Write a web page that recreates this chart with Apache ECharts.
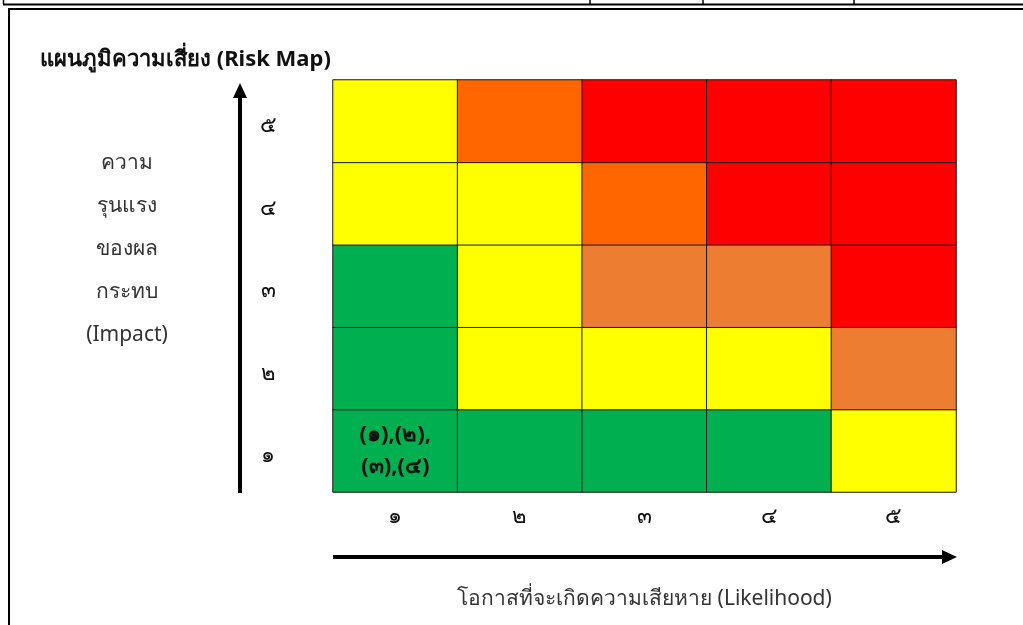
<!DOCTYPE html>
<html>
<head>
<meta charset="utf-8">
<script src="https://cdn.jsdelivr.net/npm/echarts@6/dist/echarts.min.js"></script>
<style>
html,body{margin:0;padding:0;background:#fff;}
#chart{width:1023px;height:625px;}
</style>
</head>
<body>
<div id="chart"></div>
<script>
const likelihoodLabels = ['๑','๒','๓','๔','๕'];
const impactLabels = ['๑','๒','๓','๔','๕'];
// rows: impact 1..5 (bottom to top), columns: likelihood 1..5
const riskLevel = [
  [1,1,1,1,2],
  [1,2,2,2,3],
  [1,2,3,3,5],
  [2,2,4,5,5],
  [2,4,5,5,5]
];
const levelColors = ['#00B050','#FFFF00','#ED7D31','#FF6600','#FF0000'];
const cellNotes = { '0,0': '(๑),(๒),\n(๓),(๔)' };
const titleText = 'แผนภูมิความเสี่ยง (Risk Map)';
const impactTitle = 'ความ\nรุนแรง\nของผล\nกระทบ\n(Impact)';
const likelihoodTitle = 'โอกาสที่จะเกิดความเสียหาย (Likelihood)';

const FONT = '"Noto Sans", "DejaVu Sans", sans-serif';
const data = [];
riskLevel.forEach((row, yi) => row.forEach((v, xi) => data.push([xi, yi, v])));

const chart = echarts.init(document.getElementById('chart'));
chart.setOption({
  backgroundColor: '#fff',
  animation: false,
  textStyle: { fontFamily: FONT },
  title: {
    text: titleText, left: 35, top: 44,
    textStyle: { fontFamily: FONT, fontSize: 22, fontWeight: 'bold', color: '#111' }
  },
  grid: { left: 333, top: 80, width: 623, height: 412 },
  xAxis: {
    type: 'category', data: likelihoodLabels,
    axisLine: { show: false }, axisTick: { show: false }, splitLine: { show: false },
    axisLabel: { margin: 14, fontSize: 22, color: '#111', fontFamily: FONT },
    name: likelihoodTitle, nameLocation: 'middle', nameGap: 97,
    nameTextStyle: { fontSize: 21, color: '#333', fontFamily: FONT }
  },
  yAxis: {
    type: 'category', data: impactLabels,
    axisLine: { show: false }, axisTick: { show: false }, splitLine: { show: false },
    axisLabel: {
      margin: 65, align: 'center', fontFamily: FONT,
      formatter: v => '{d|' + v + '}',
      rich: { d: { fontSize: 22, color: '#111', fontFamily: FONT, lineHeight: 22, padding: [10, 0, 0, 0] } }
    }
  },
  visualMap: {
    show: false, type: 'piecewise', dimension: 2,
    pieces: levelColors.map((c, i) => ({ value: i + 1, color: c }))
  },
  series: [{
    type: 'heatmap',
    data: data,
    itemStyle: { borderColor: '#1a1a1a', borderWidth: 1 },
    emphasis: { disabled: true },
    label: {
      show: true,
      formatter: p => cellNotes[p.value[0] + ',' + p.value[1]] || '',
      fontSize: 22, fontWeight: 'bold', color: '#111', lineHeight: 32, fontFamily: FONT
    }
  }],
  graphic: [
    { type: 'line', shape: { x1: 3, y1: 4.5, x2: 1023, y2: 4.5 }, style: { stroke: '#000', lineWidth: 2 } },
    { type: 'line', shape: { x1: 3.5, y1: 0, x2: 3.5, y2: 4 }, style: { stroke: '#000', lineWidth: 1.5 } },
    { type: 'line', shape: { x1: 590, y1: 0, x2: 590, y2: 4 }, style: { stroke: '#000', lineWidth: 1.5 } },
    { type: 'line', shape: { x1: 703, y1: 0, x2: 703, y2: 4 }, style: { stroke: '#000', lineWidth: 1.5 } },
    { type: 'line', shape: { x1: 854, y1: 0, x2: 854, y2: 4 }, style: { stroke: '#000', lineWidth: 1.5 } },
    { type: 'line', shape: { x1: 8, y1: 9, x2: 1023, y2: 9 }, style: { stroke: '#000', lineWidth: 2 } },
    { type: 'line', shape: { x1: 9, y1: 8, x2: 9, y2: 625 }, style: { stroke: '#000', lineWidth: 2 } },
    { type: 'line', shape: { x1: 240, y1: 493, x2: 240, y2: 95 }, style: { stroke: '#000', lineWidth: 4 } },
    { type: 'polygon', shape: { points: [[233, 98], [240, 83], [247, 98]] }, style: { fill: '#000' } },
    { type: 'line', shape: { x1: 333, y1: 557, x2: 945, y2: 557 }, style: { stroke: '#000', lineWidth: 4 } },
    { type: 'polygon', shape: { points: [[942, 550], [957, 557], [942, 564]] }, style: { fill: '#000' } },
    { type: 'text', x: 127, y: 249, style: {
        text: impactTitle, textAlign: 'center', textVerticalAlign: 'middle',
        fontSize: 21, lineHeight: 43, fill: '#333', fontFamily: FONT } }
  ]
});
</script>
</body>
</html>
